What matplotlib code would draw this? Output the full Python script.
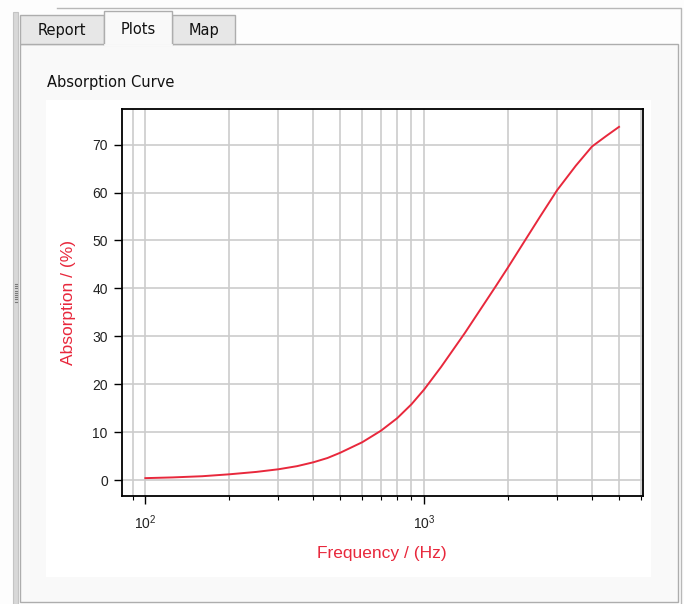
import numpy as np
import matplotlib
matplotlib.use('Agg')
import matplotlib.pyplot as plt
from matplotlib.patches import Rectangle

# absorption curve
freq = [100, 125, 160, 200, 250, 300, 350, 400, 450, 500, 600, 700, 800, 900,
        1000, 1150, 1400, 1800, 2000, 2300, 2600, 3000, 3500, 4000, 4500, 5000]
absorption = [0.4, 0.55, 0.8, 1.2, 1.7, 2.25, 2.9, 3.7, 4.6, 5.7, 7.9, 10.3, 12.9, 15.8,
              18.9, 23.6, 30.7, 40.3, 44.4, 50.0, 54.9, 60.5, 65.6, 69.6, 71.8, 73.7]

tab_names = ['Report', 'Plots', 'Map']
plot_title = 'Absorption Curve'
xlabel = 'Frequency / (Hz)'
ylabel = 'Absorption / (%)'

W, H = 684, 604
red = '#e8283c'
border = '#adadad'
gui_font = 'DejaVu Sans'

plt.rcParams['font.family'] = 'Liberation Sans'
plt.rcParams['mathtext.fontset'] = 'custom'
plt.rcParams['mathtext.rm'] = 'Liberation Sans'
plt.rcParams['mathtext.it'] = 'Liberation Sans:italic'

fig = plt.figure(figsize=(W/100, H/100), dpi=100, facecolor='#fdfdfd')

# -----------------> GUI FRAME (pixel coords, y down)
bg = fig.add_axes([0, 0, 1, 1], zorder=0)
bg.set_xlim(0, W)
bg.set_ylim(H, 0)
bg.axis('off')

# outer frame + splitter bar on the left
bg.plot([57, 681, 681], [8, 8, H], color='#b8b8b8', lw=1)
bg.add_patch(Rectangle((13, 12), 5, H-12, facecolor='#d8d8d8', edgecolor='#c4c4c4', lw=0.8))
for yy in np.arange(284, 302, 2.2):
    bg.plot([15, 17], [yy, yy], color='#7a7a7a', lw=0.8)

# tab panel
bg.add_patch(Rectangle((20, 44), 658, 558, facecolor='#f9f9f9', edgecolor=border, lw=1))

# tabs
tab_x = [(20, 104), (104, 172), (172, 235)]
for name, (x0, x1) in zip(tab_names, tab_x):
    if name == 'Plots':
        bg.add_patch(Rectangle((x0, 11), x1-x0, 34, facecolor='#f9f9f9', edgecolor=border, lw=1, zorder=3))
        bg.plot([x0+1, x1-1], [44.5, 44.5], color='#f9f9f9', lw=2, zorder=4)
        bg.text((x0+x1)/2, 29, name, ha='center', va='center', fontsize=10.5,
                family=gui_font, color='#111111', zorder=5)
    else:
        bg.add_patch(Rectangle((x0, 15), x1-x0, 29, facecolor='#e7e7e7', edgecolor=border, lw=1, zorder=2))
        bg.text((x0+x1)/2, 31, name, ha='center', va='center', fontsize=10.5,
                family=gui_font, color='#111111', zorder=5)

# white plot canvas
bg.add_patch(Rectangle((46, 100), 605, 477, facecolor='white', edgecolor='none'))
bg.text(47, 82, plot_title, ha='left', va='center', fontsize=10.5, family=gui_font, color='#111111')

# -----------------> THE PLOT
ax = fig.add_axes([121.7/W, 1-495.7/H, 521/W, 386.4/H], zorder=1)
ax.plot(freq, absorption, color=red, lw=1.4)
ax.set_xscale('log')

ax.grid(True, which='major', axis='both', color='#cccccc', lw=1.2)
ax.grid(True, which='minor', axis='x', color='#cccccc', lw=1.2)
ax.set_axisbelow(True)

for s in ax.spines.values():
    s.set_linewidth(1.3)
    s.set_color('black')

ax.tick_params(axis='both', which='major', direction='out', length=6, width=1,
               labelsize=10, labelcolor='#222222', pad=4)
ax.tick_params(axis='x', which='major', pad=7)
ax.tick_params(axis='x', which='minor', direction='out', length=3, width=0.8)

ax.set_xlabel(xlabel, color=red, fontsize=12.5, labelpad=10)
ax.set_ylabel(ylabel, color=red, fontsize=12.5, labelpad=12)

fig.savefig('out.png', dpi=100)
